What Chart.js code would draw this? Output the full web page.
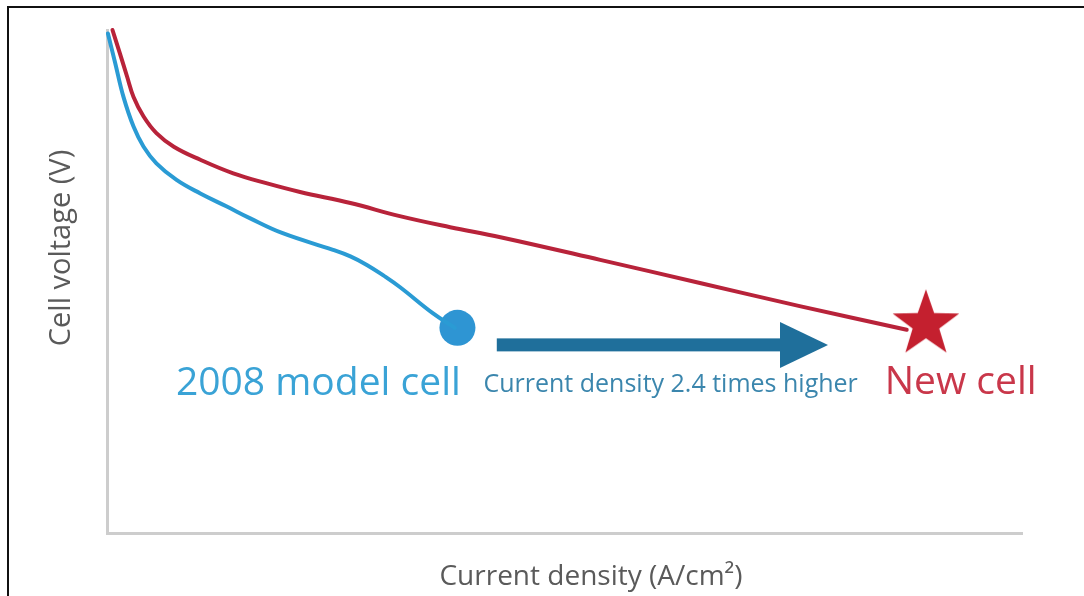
<!DOCTYPE html>
<html>
<head>
<meta charset="utf-8">
<script src="https://cdn.jsdelivr.net/npm/chart.js@4"></script>
<style>
  body { margin: 0; background: #fff; }
  #wrap { width: 1084px; height: 596px; }
</style>
</head>
<body>
<div id="wrap"><canvas id="myChart" width="1084" height="596"></canvas></div>
<script>
// values, no units on the axes so both run 0..100
let newX = [0.6, 1.4, 2.2, 2.9, 4.0, 5.4, 7.3, 10.2, 13.8, 17.5, 21.1, 26.6, 32.0, 37.5, 43.0, 53.9, 64.8, 75.7, 87.4]
let newY = [100, 95.4, 90.7, 86.7, 82.8, 79.5, 76.8, 74.2, 71.5, 69.5, 67.8, 65.6, 63.0, 60.8, 58.8, 54.3, 49.7, 45.1, 40.4]
let oldX = [0.1, 0.9, 1.8, 2.9, 4.0, 5.4, 7.6, 10.2, 13.1, 15.6, 19.2, 24.7, 26.6, 28.4, 30.2, 32.0, 35.6, 38.0]
let oldY = [99.3, 93.4, 86.7, 80.8, 76.8, 73.5, 70.2, 67.5, 64.9, 62.6, 59.6, 56.3, 55.0, 53.3, 51.2, 48.9, 43.7, 40.8]
let oldEnd = [38.3, 40.8]
let newEnd = [89.5, 41.5]
let arrowX = [42.6, 78.8]
let arrowY = 37.4
let xTitle = 'Current density (A/cm²)'
let yTitle = 'Cell voltage (V)'
let oldLabel = '2008 model cell'
let newLabel = 'New cell'
let arrowLabel = 'Current density 2.4 times higher'

function pts(xs, ys) {
    let out = []
    for (let i = 0; i < xs.length; i++) out.push({x: xs[i], y: ys[i]})
    return out
}

// filled 5 point star used as the marker of the new cell
function makeStar(R, r, color) {
    let c = document.createElement('canvas')
    c.width = R * 2 + 2
    c.height = R * 2 + 2
    let g = c.getContext('2d')
    g.translate(R + 1, R + 1)
    g.beginPath()
    for (let i = 0; i < 10; i++) {
        let rad = i % 2 == 0 ? R : r
        let a = -Math.PI / 2 + i * Math.PI / 5
        g.lineTo(rad * Math.cos(a), rad * Math.sin(a))
    }
    g.closePath()
    g.fillStyle = color
    g.fill()
    return c
}

const extras = {
    id: 'extras',
    beforeDraw(chart) {
        let ctx = chart.ctx
        ctx.save()
        ctx.strokeStyle = '#111'
        ctx.lineWidth = 2
        ctx.beginPath()
        ctx.moveTo(8, 596)
        ctx.lineTo(8, 7)
        ctx.lineTo(1084, 7)
        ctx.stroke()
        // axis titles, set off-centre like in the picture
        ctx.fillStyle = '#5a5a5a'
        ctx.textAlign = 'center'
        ctx.textBaseline = 'middle'
        ctx.font = '28px "Open Sans"'
        ctx.fillText(xTitle, 591, 577)
        ctx.translate(62, 248)
        ctx.rotate(-Math.PI / 2)
        ctx.font = '29px "Open Sans"'
        ctx.fillText(yTitle, 0, 0)
        ctx.restore()
    },
    afterDatasetsDraw(chart) {
        let ctx = chart.ctx
        let xs = chart.scales.x, ys = chart.scales.y
        ctx.save()
        // arrow
        let x0 = xs.getPixelForValue(arrowX[0])
        let x1 = xs.getPixelForValue(arrowX[1])
        let y = ys.getPixelForValue(arrowY)
        ctx.fillStyle = '#1f6f9b'
        ctx.fillRect(x0, y - 6.5, (x1 - 46) - x0, 13)
        ctx.beginPath()
        ctx.moveTo(x1 - 48, y - 23)
        ctx.lineTo(x1, y)
        ctx.lineTo(x1 - 48, y + 23)
        ctx.closePath()
        ctx.fill()
        // texts
        ctx.textAlign = 'center'
        ctx.textBaseline = 'alphabetic'
        ctx.font = '39px "Open Sans"'
        ctx.fillStyle = '#3aa3d6'
        ctx.fillText(oldLabel, xs.getPixelForValue(23.1), ys.getPixelForValue(27.4))
        ctx.fillStyle = '#c9374a'
        ctx.fillText(newLabel, xs.getPixelForValue(93.3), ys.getPixelForValue(27.6))
        ctx.font = '25px "Open Sans"'
        ctx.fillStyle = '#3b86ad'
        ctx.fillText(arrowLabel, xs.getPixelForValue(61.6), ys.getPixelForValue(28.0))
        ctx.restore()
    }
}

const ctx = document.getElementById('myChart')

new Chart(ctx, {
    type: 'line',
    data: {
        datasets: [
            {
                data: pts(newX, newY),
                borderColor: '#b8233a',
                borderWidth: 4,
                pointRadius: 0,
                tension: 0.4,
                borderCapStyle: 'round',
                clip: false
            },
            {
                data: pts(oldX, oldY),
                borderColor: '#2a9bd4',
                borderWidth: 4,
                pointRadius: 0,
                tension: 0.4,
                borderCapStyle: 'round',
                clip: false
            },
            {
                data: [{x: oldEnd[0], y: oldEnd[1]}],
                showLine: false,
                pointRadius: 18,
                pointBackgroundColor: '#2e95d3',
                pointBorderWidth: 0
            },
            {
                data: [{x: newEnd[0], y: newEnd[1]}],
                showLine: false,
                pointStyle: makeStar(35, 14, '#c4202f'),
                pointRadius: 35
            }
        ]
    },
    plugins: [extras],
    options: {
        responsive: false,
        animation: false,
        layout: { autoPadding: false, padding: { left: 107, right: 62, top: 30, bottom: 63 } },
        plugins: { legend: { display: false }, tooltip: { enabled: false } },
        scales: {
            x: {
                type: 'linear',
                min: 0,
                max: 100,
                ticks: { display: false },
                grid: { display: false, drawTicks: false },
                border: { display: true, color: '#cdcdcd', width: 3 }
            },
            y: {
                type: 'linear',
                min: 0,
                max: 100,
                ticks: { display: false },
                grid: { display: false, drawTicks: false },
                border: { display: true, color: '#cdcdcd', width: 3 }
            }
        }
    }
})
</script>
</body>
</html>
